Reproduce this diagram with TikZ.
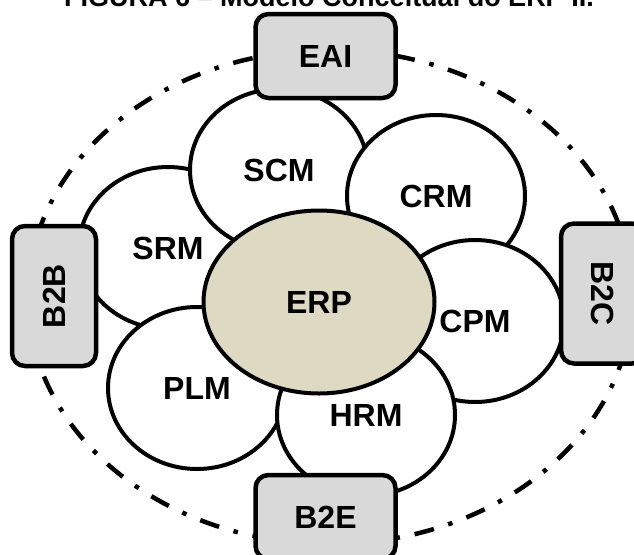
\documentclass[tikz,border=0pt]{standalone}
\usepackage{fontspec}
\setmainfont{Liberation Sans}
\usetikzlibrary{shapes.geometric}
\definecolor{erpfill}{HTML}{DDD9C3}
\definecolor{boxgray}{HTML}{D9D9D9}
\begin{document}
\begin{tikzpicture}[x=1pt,y=-1pt,
  labelfont/.style={font=\fontsize{32}{38}\selectfont\bfseries},
  petal/.style={ellipse, draw=black, line width=4pt, fill=white,
    minimum width=178pt, minimum height=162pt, inner sep=0pt, labelfont},
  core/.style={petal, fill=erpfill, minimum width=231pt, minimum height=183pt},
  sidebox/.style={draw=black, line width=4.5pt, fill=boxgray, rounded corners=13pt,
    minimum width=140pt, minimum height=84pt, inner sep=0pt, labelfont},
  orbit/.style={draw=black, line width=4.5pt,
    dash pattern=on 20pt off 15pt on 4.5pt off 15pt}]
\useasboundingbox (0,0) rectangle (634,554);

% outer dash-dotted ring
\draw[orbit] (330,297) ellipse [x radius=302, y radius=247];

% modules around the core, stacked so each overlaps its neighbour
\node[petal] (srm) at (168,248) {SRM};
\node[petal] (scm) at (279,170) {SCM};
\node[petal] (crm) at (436,196) {CRM};
\node[petal] (cpm) at (475,321) {CPM};
\node[petal] (plm) at (197,388) {PLM};
\node[petal] (hrm) at (366,415) {HRM};

% central ERP
\node[core] (erp) at (319,302) {ERP};

% integration boxes
\node[sidebox] (eai) at (325.5,56) {EAI};
\node[sidebox, rotate=90] (b2b) at (54,296) {B2B};
\node[sidebox, rotate=-90] (b2c) at (603,293.5) {B2C};
\node[sidebox] (b2e) at (325.5,517) {B2E};

% caption
\node[anchor=base, font=\fontsize{27}{32}\selectfont\bfseries] (title) at (329,6)
  {FIGURA 6 – Modelo Conceitual do ERP II.};
\end{tikzpicture}
\end{document}
